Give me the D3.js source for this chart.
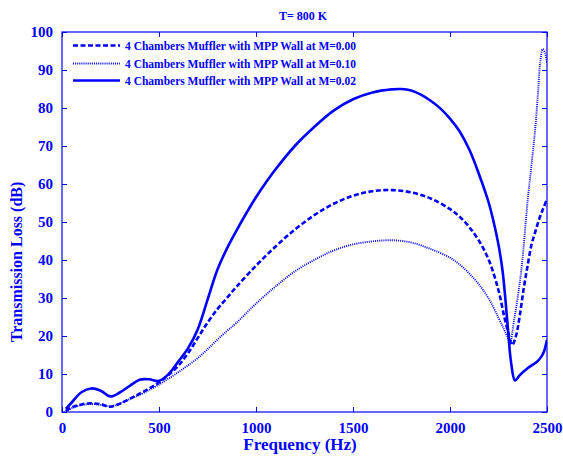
<!DOCTYPE html>
<html><head><meta charset="utf-8">
<script src="https://cdn.jsdelivr.net/npm/d3@7"></script>
<style>
body{margin:0;background:#fff;}
text{font-family:"Liberation Serif","Times New Roman",serif;font-weight:bold;fill:#0000ff;}
</style></head>
<body>
<svg id="chart" width="563" height="458"></svg>
<script>
const title = "T= 800 K";
const xTicks = [0, 500, 1000, 1500, 2000, 2500];
const yTicks = [0, 10, 20, 30, 40, 50, 60, 70, 80, 90, 100];
const seriesNames = [
  "4 Chambers Muffler with MPP Wall at M=0.00",
  "4 Chambers Muffler with MPP Wall at M=0.10",
  "4 Chambers Muffler with MPP Wall at M=0.02"
];
// M = 0.00 (dashed)
const freqM000 = [20,50,100,150,200,250,300,350,400,450,500,550,600,650,700,750,800,850,900,1000,1100,1200,1300,1400,1500,1600,1700,1800,1900,2000,2050,2100,2150,2200,2250,2280,2300,2320,2340,2360,2380,2400,2420,2440,2460,2480,2500];
const tlM000 = [0.3,1.2,2.0,2.3,2.0,1.4,2.2,3.5,4.8,6.2,7.8,9.8,12.2,15.5,19.5,23.5,27,30,33,38.5,43.5,48,51.8,54.8,56.9,58.1,58.4,57.8,56.2,53.4,51.4,48.6,45,40,32,25,21,17.6,20,25.5,32.5,38.5,44,47.5,50.8,53.5,56];
// M = 0.10 (dotted)
const freqM010 = [20,50,100,150,200,250,300,350,400,450,500,550,600,650,700,750,800,850,900,1000,1100,1200,1300,1400,1500,1600,1700,1800,1900,2000,2050,2100,2150,2200,2250,2280,2300,2310,2330,2350,2370,2400,2420,2440,2455,2465,2478,2490,2500];
const tlM010 = [0.2,1.0,1.8,2.1,1.9,1.5,2.3,3.4,4.5,5.8,7.2,8.8,10.5,12.3,14.2,16.5,19,21.3,23.5,28.5,33,37,40,42.5,44.1,44.9,45.2,44.6,42.9,40.6,38.8,36.4,33.5,29.8,24.8,21.6,19.3,18.4,24,30.5,38.5,55.5,65,75,85,92,95.5,94.5,92];
// M = 0.02 (solid)
const freqM002 = [20,50,100,150,200,250,300,350,400,450,500,550,600,650,700,750,800,850,900,950,1000,1050,1100,1200,1300,1400,1500,1600,1700,1750,1800,1850,1900,1950,2000,2050,2100,2150,2200,2225,2250,2270,2285,2300,2315,2335,2360,2400,2450,2470,2485,2500];
const tlM002 = [0.8,2.5,5.2,6.2,5.6,4.1,5.2,6.9,8.5,8.6,8.2,10,13.3,16.8,21.8,29.5,37.3,43,47.8,52.3,56.5,60.3,63.8,70,75,79.3,82.3,84.1,84.9,85,84.6,83.5,81.9,79.9,77.2,73.8,69,62.5,55,50,44,37.5,30,21,13,8.3,9.7,11.5,13.3,14.5,16,19];

const svg = d3.select("#chart");
const blue = "#0000ff";
const pL = 62, pR = 547, pT = 32, pB = 412;
const x = d3.scaleLinear().domain([0, 2500]).range([pL, pR]);
const y = d3.scaleLinear().domain([0, 100]).range([pB, pT]);

svg.append("rect").attr("x", pL).attr("y", pT).attr("width", pR-pL).attr("height", pB-pT)
  .attr("fill", "none").attr("stroke", blue).attr("stroke-width", 1.2);

function styleAxis(g){
  g.select(".domain").remove();
  g.selectAll("line").attr("stroke", blue).attr("stroke-width", 1);
  g.selectAll("text").style("font-size", "15px").style("fill", blue).style("font-family", '"Liberation Serif",serif').style("font-weight", "bold");
}
const xAxis = svg.append("g").attr("transform", `translate(0,${pB})`)
  .call(d3.axisBottom(x).tickValues(xTicks).tickSizeInner(-5).tickSizeOuter(0).tickPadding(10).tickFormat(d3.format("d")));
styleAxis(xAxis);
const xAxisTop = svg.append("g").attr("transform", `translate(0,${pT})`)
  .call(d3.axisTop(x).tickValues(xTicks).tickSizeInner(-5).tickSizeOuter(0).tickFormat(""));
styleAxis(xAxisTop);
const yAxis = svg.append("g").attr("transform", `translate(${pL},0)`)
  .call(d3.axisLeft(y).tickValues(yTicks).tickSizeInner(-5).tickSizeOuter(0).tickPadding(9).tickFormat(d3.format("d")));
styleAxis(yAxis);
const yAxisR = svg.append("g").attr("transform", `translate(${pR},0)`)
  .call(d3.axisRight(y).tickValues(yTicks).tickSizeInner(-5).tickSizeOuter(0).tickFormat(""));
styleAxis(yAxisR);

svg.append("text").attr("x", 303).attr("y", 20).attr("text-anchor", "middle").style("font-size", "12px").text(title);
svg.append("text").attr("x", 300).attr("y", 450).attr("text-anchor", "middle").style("font-size", "17px").text("Frequency (Hz)");
svg.append("text").attr("transform", "translate(22,262) rotate(-90)").attr("text-anchor", "middle").style("font-size", "16px").text("Transmission Loss (dB)");

const styles = [
  {w: 2.6, dash: "5,2.5"},
  {w: 1.9, dash: "1,1.1"},
  {w: 2.6, dash: null}
];
const datasets = [
  d3.zip(freqM000, tlM000),
  d3.zip(freqM010, tlM010),
  d3.zip(freqM002, tlM002)
];
const line = d3.line().x(d => x(d[0])).y(d => y(d[1])).curve(d3.curveCatmullRom.alpha(0.5));
svg.append("clipPath").attr("id", "clip").append("rect")
  .attr("x", pL).attr("y", pT).attr("width", pR-pL).attr("height", pB-pT);
datasets.forEach((ds, i) => {
  svg.append("path").datum(ds).attr("d", line).attr("fill", "none")
    .attr("stroke", blue).attr("stroke-width", styles[i].w)
    .attr("stroke-dasharray", styles[i].dash)
    .attr("clip-path", "url(#clip)");
});

const legY = [45.5, 63.5, 80.5];
seriesNames.forEach((name, i) => {
  svg.append("line").attr("x1", 73).attr("x2", 120).attr("y1", legY[i]).attr("y2", legY[i])
    .attr("stroke", blue).attr("stroke-width", styles[i].w).attr("stroke-dasharray", styles[i].dash);
  svg.append("text").attr("x", 125).attr("y", legY[i] + 4).style("font-size", "11.5px").text(name);
});
</script>
</body></html>
